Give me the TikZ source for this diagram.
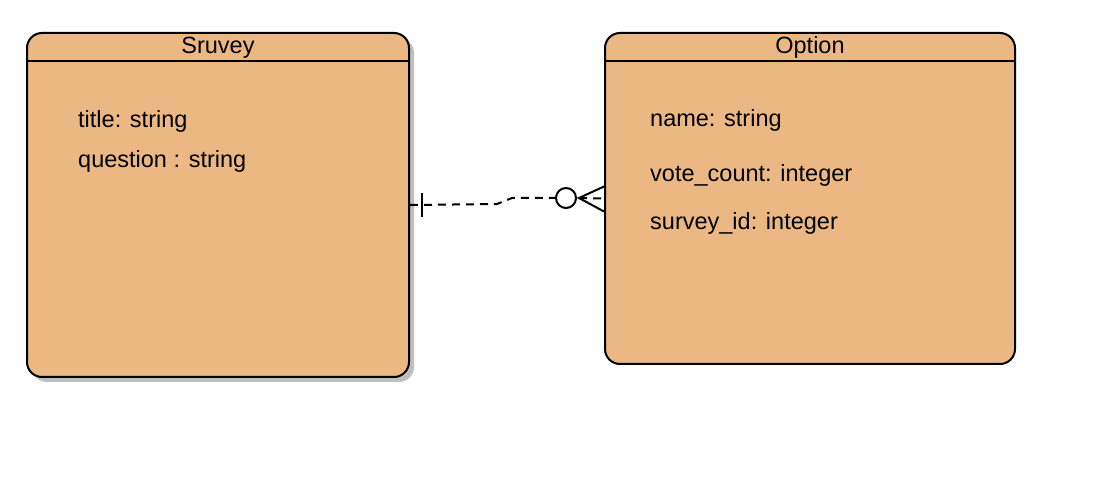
\documentclass[tikz,border=0pt]{standalone}
\usepackage{fontspec}
\setmainfont{Liberation Sans}
\usetikzlibrary{shadows}
\definecolor{entityfill}{RGB}{235,184,132}
\tikzset{entity/.style={draw=black, fill=entityfill, line width=2pt, rounded corners=15pt},
  shadowed/.style={drop shadow={shadow xshift=5pt, shadow yshift=-5pt, fill=black!25, opacity=1}},
  field/.style={anchor=base west, inner sep=0pt}}

\begin{document}
\begin{tikzpicture}[x=1pt,y=-1pt,font=\fontsize{23.5}{27}\selectfont]
\useasboundingbox (0,0) rectangle (1104,478);
\node[entity, shadowed, minimum width=382pt, minimum height=344pt] (survey) at (218,205) {};
\node[entity, minimum width=410pt, minimum height=331pt] (option) at (810,198.5) {};

%header lines
\draw [line width=2pt] ([yshift=-29pt]survey.north west)--([yshift=-29pt]survey.north east);	%Sruvey
\draw [line width=2pt] ([yshift=-29pt]option.north west)--([yshift=-29pt]option.north east);	%Option

%labels
\node[anchor=base, inner sep=0pt] (st) at (218,54) {Sruvey};
\node[anchor=base, inner sep=0pt] (ot) at (810,54) {Option};
\node[field] (s1) at (78,128) {title: string};
\node[field] (s2) at (78,168) {question : string};
\node[field] (o1) at (650,127) {name: string};
\node[field] (o2) at (650,182) {vote\_count: integer};
\node[field] (o3) at (650,230) {survey\_id: integer};

%relation
\node[circle,draw=black, fill=white, line width=2pt, inner sep=0pt,minimum size=20pt] (ring) at (566,198) {};
\coordinate (foot) at (579,198);
\coordinate (bend1) at (497,204);
\coordinate (bend2) at (512,198);
\draw [line width=2pt, dash pattern=on 8pt off 6pt] (survey.east)--(bend1)--(bend2)--(ring.west);	%Sruvey--Option
\draw [line width=2pt] ([xshift=12pt,yshift=12pt]survey.east)--([xshift=12pt,yshift=-12pt]survey.east);	%one
\draw [line width=2pt] ([yshift=12pt]option.west)--(foot)--([yshift=-13pt]option.west);	%many
\draw [line width=2pt, dash pattern=on 8pt off 6pt] (foot)--(option.west);
\end{tikzpicture}
\end{document}
